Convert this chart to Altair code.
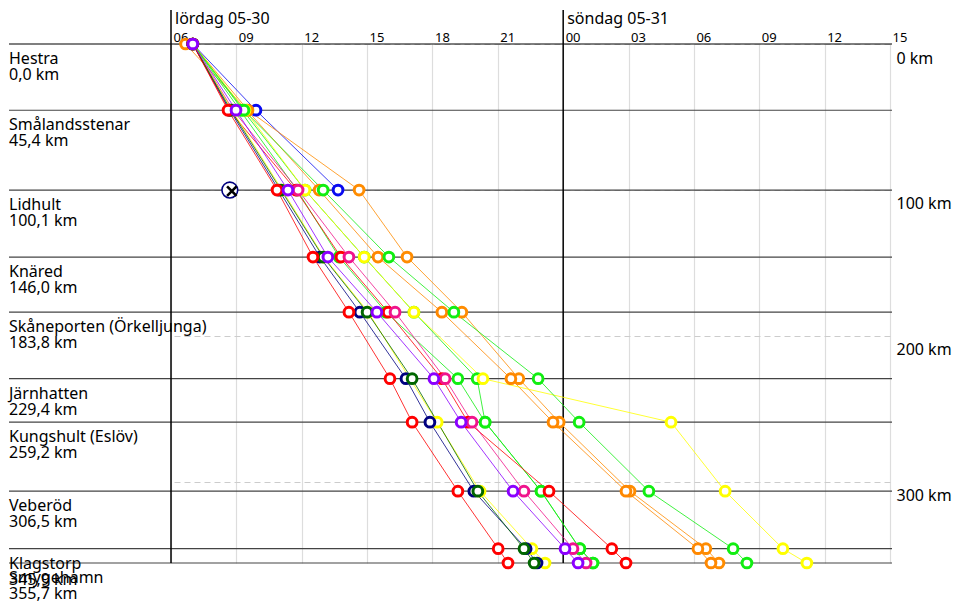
import altair as alt
import pandas as pd

# ---- checkpoints ----
checkpoints = ["Hestra", "Smålandsstenar", "Lidhult", "Knäred", "Skåneporten (Örkelljunga)",
               "Järnhatten", "Kungshult (Eslöv)", "Veberöd", "Klagstorp", "Smygehamn"]
checkpoint_km = [0.0, 45.4, 100.1, 146.0, 183.8, 229.4, 259.2, 306.5, 345.9, 355.7]

# ---- riders: arrival times per checkpoint ("lö" = Saturday, "sö" = Sunday), None = no time ----
times_blue = ["lö 07:00", "lö 09:54", "lö 13:40", None, None, None, None, None, None, None]
times_orange2 = ["lö 07:00", "lö 09:32", "lö 14:38", "lö 16:50", "lö 19:21", "lö 21:58", "lö 23:49", "sö 03:04", "sö 06:33", "sö 07:09"]
times_orange1 = ["lö 06:40", "lö 09:29", "lö 12:48", "lö 15:30", "lö 18:26", "lö 21:36", "lö 23:32", "sö 02:53", "sö 06:11", "sö 06:47"]
times_lime2 = ["lö 07:00", "lö 09:18", "lö 12:09", "lö 14:52", "lö 17:09", "lö 20:03", "lö 20:25", "lö 22:59", "sö 00:46", "sö 01:22"]
times_yellow2 = ["lö 07:00", "lö 09:24", "lö 12:09", "lö 14:52", "lö 17:09", "lö 20:19", "sö 04:57", "sö 07:26", "sö 10:05", "sö 11:11"]
times_lime1 = ["lö 07:00", "lö 09:10", "lö 11:47", "lö 13:43", "lö 15:52", "lö 19:10", "lö 20:25", "lö 22:59", "sö 00:46", "sö 01:22"]
times_lime3 = ["lö 07:00", "lö 09:21", "lö 12:59", "lö 16:00", "lö 18:59", "lö 22:51", "sö 00:44", "sö 03:56", "sö 07:48", "sö 08:26"]
times_redB = ["lö 07:00", "lö 08:40", "lö 11:44", "lö 13:48", "lö 15:58", "lö 18:26", "lö 19:38", "lö 23:21", "sö 02:14", "sö 02:53"]
times_magenta = ["lö 07:00", "lö 08:51", "lö 11:50", "lö 14:10", "lö 16:17", "lö 18:35", "lö 19:49", "lö 22:12", "sö 00:27", "sö 01:03"]
times_yellow1 = ["lö 07:00", "lö 08:48", "lö 11:06", "lö 13:01", "lö 15:03", None, "lö 18:13", "lö 20:11", "lö 22:34", "lö 23:10"]
times_navy = ["lö 07:00", "lö 08:42", "lö 10:57", "lö 12:50", "lö 14:40", "lö 16:47", "lö 17:53", "lö 19:54", "lö 22:18", "lö 22:48"]
times_dkgreen = ["lö 07:00", "lö 08:45", "lö 11:03", "lö 12:59", "lö 15:00", "lö 17:04", None, "lö 20:05", "lö 22:12", "lö 22:40"]
times_redA = ["lö 07:00", "lö 08:37", "lö 10:52", "lö 12:31", "lö 14:10", "lö 16:03", "lö 17:04", "lö 19:10", "lö 21:01", "lö 21:28"]
times_purple = ["lö 07:00", "lö 08:59", "lö 11:22", "lö 13:12", "lö 15:27", "lö 18:04", "lö 19:19", "lö 21:42", "sö 00:05", "sö 00:41"]

rider_ids = ["blue", "orange2", "orange1", "lime2", "yellow2", "lime1", "lime3", "redB",
             "magenta", "yellow1", "navy", "dkgreen", "redA", "purple"]
rider_colors = ["#0a0af0", "#ff8c00", "#ff8800", "#11ee11", "#ffff00", "#11ee11", "#11ee11", "#ff0000",
                "#f0148c", "#ffff00", "#000080", "#006600", "#ff0000", "#8b00ff"]
rider_times = [times_blue, times_orange2, times_orange1, times_lime2, times_yellow2, times_lime1,
               times_lime3, times_redB, times_magenta, times_yellow1, times_navy, times_dkgreen,
               times_redA, times_purple]

# DNF marker at Lidhult
dnf_time = ["lö 08:42"]
dnf_km = [100.1]

day_labels = ["lördag 05-30", "söndag 05-31"]
day_starts = ["lö 06:00", "sö 00:00"]
hour_ticks = [6, 9, 12, 15, 18, 21, 24, 27, 30, 33, 36, 39]
km_ticks = [0, 100, 200, 300]


def hours(s):
    day, hm = s.split()
    h, m = hm.split(":")
    return (24 if day == "sö" else 0) + int(h) + int(m) / 60.0


rows = []
for order, (rid, tlist) in enumerate(zip(rider_ids, rider_times)):
    for km, t in zip(checkpoint_km, tlist):
        if t is not None:
            rows.append({"rider": rid, "t": hours(t), "km": km, "o": order})
riders_df = pd.DataFrame(rows)

cp_df = pd.DataFrame({
    "name": checkpoints,
    "km": checkpoint_km,
    "kmtxt": [f"{k:.1f}".replace(".", ",") + " km" for k in checkpoint_km],
})
day_df = pd.DataFrame({"label": day_labels, "t": [hours(s) for s in day_starts]})
dnf_df = pd.DataFrame({"t": [hours(s) for s in dnf_time], "km": dnf_km})

W, H = 719, 519
FONT = "Noto Sans"

xscale = alt.Scale(domain=[6, 39], nice=False, zero=False)
yscale = alt.Scale(domain=[0, 355.7], reverse=True, nice=False, zero=False)
cscale = alt.Scale(domain=rider_ids, range=rider_colors)

x_axis = alt.Axis(
    orient="top", values=hour_ticks,
    labelExpr="(datum.value % 24 < 10 ? '0' : '') + (datum.value % 24)",
    grid=True, gridColor="#dddddd", gridWidth=1.2, domain=False, ticks=False, tickSize=0,
    labelAlign="left", labelBaseline="alphabetic", labelPadding=3, labelFontSize=13,
    labelFont=FONT, labelColor="black", labelFlush=False, labelOverlap=False,
    labelBound=False, title=None, labelOffset=2,
)
y_axis = alt.Axis(
    orient="right", values=km_ticks, labelExpr="datum.value + ' km'",
    grid=True, gridColor="#cccccc", gridDash=[6, 4], domain=False, ticks=False, tickSize=0,
    labelAlign="left", labelBaseline="middle", labelPadding=6, labelOffset=14,
    labelFontSize=16, labelFont=FONT, labelColor="black", labelFlush=False,
    labelOverlap=False, labelBound=False, title=None,
)

X = alt.X("t:Q", scale=xscale, axis=x_axis)
Y = alt.Y("km:Q", scale=yscale, axis=y_axis)

cp_rules = alt.Chart(cp_df).mark_rule(strokeWidth=1.2).encode(
    x=alt.value(-162), x2=alt.value(W + 2),
    y=Y,
    color=alt.condition("datum.km == 0", alt.value("black"), alt.value("#444444")),
)

day_rules = alt.Chart(day_df).mark_rule(color="black", strokeWidth=1.5).encode(
    x=X, y=alt.value(-34), y2=alt.value(H),
)

day_text = alt.Chart(day_df).mark_text(
    align="left", baseline="alphabetic", dx=4, fontSize=16, font=FONT, color="black"
).encode(
    x=X, y=alt.value(-20), text="label:N",
)

cp_name = alt.Chart(cp_df).mark_text(
    align="left", baseline="alphabetic", dy=20, fontSize=16, font=FONT, color="black"
).encode(
    x=alt.value(-162), y=Y, text="name:N",
)
cp_km = alt.Chart(cp_df).mark_text(
    align="left", baseline="alphabetic", dy=36, fontSize=16, font=FONT, color="black"
).encode(
    x=alt.value(-162), y=Y, text="kmtxt:N",
)

lines = alt.Chart(riders_df).mark_line(strokeWidth=0.8).encode(
    x=X, y=Y,
    color=alt.Color("rider:N", scale=cscale, legend=None),
    detail="rider:N",
    order=alt.Order("km:Q"),
)

points = alt.Chart(riders_df).mark_point(
    shape="circle", filled=False, fill="white", strokeWidth=3, size=95, opacity=1
).encode(
    x=X, y=Y,
    color=alt.Color("rider:N", scale=cscale, legend=None),
    order=alt.Order("o:Q"),
)

dnf_circle = alt.Chart(dnf_df).mark_point(
    shape="circle", filled=False, fill="white", stroke="#000080", strokeWidth=1.6, size=250, opacity=1
).encode(x=X, y=Y)
dnf_cross = alt.Chart(dnf_df).mark_point(
    shape="M-1,-1L1,1M1,-1L-1,1", filled=False, stroke="black", strokeWidth=2.6, size=90,
    opacity=1, xOffset=2, yOffset=1,
).encode(x=X, y=Y)

chart = alt.layer(
    cp_rules, day_rules, lines, points, dnf_circle, dnf_cross, cp_name, cp_km, day_text,
).properties(
    width=W, height=H,
    autosize=alt.AutoSizeParams(type="none"),
    padding={"left": 171, "top": 44, "right": 71, "bottom": 47},
).configure_view(strokeWidth=0)

chart.save("out.html", embed_options={"renderer": "svg", "actions": False})
